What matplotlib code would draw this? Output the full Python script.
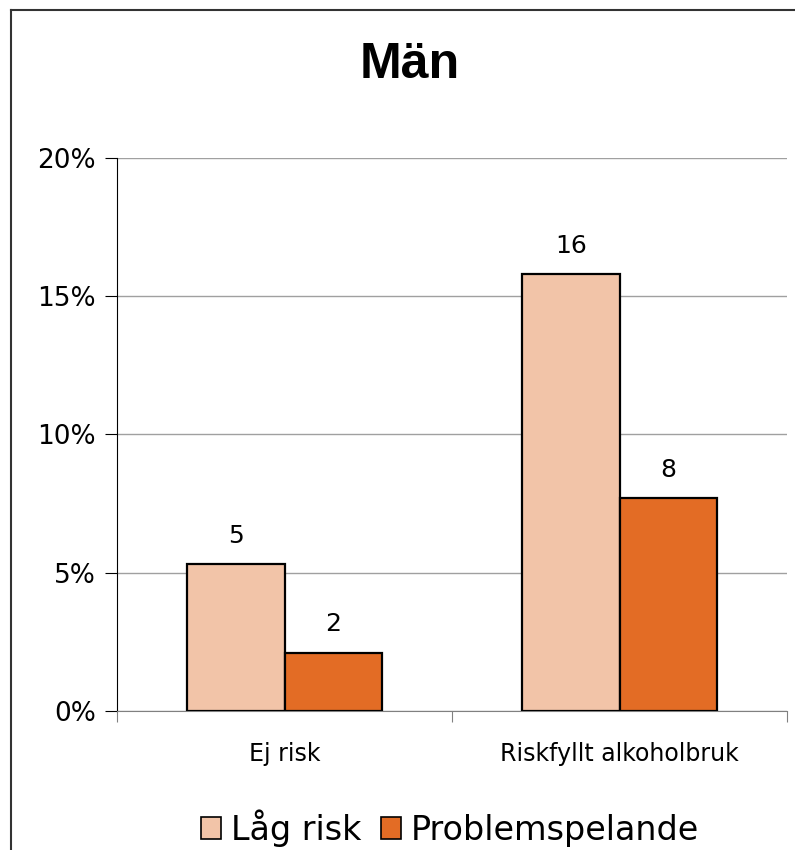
import numpy as np
import matplotlib.pyplot as plt
from matplotlib.lines import Line2D
from matplotlib.patches import Patch

categories = ["Ej risk", "Riskfyllt alkoholbruk"]
series_names = ["Låg risk", "Problemspelande"]
lag_risk = [5.3, 15.8]
problem = [2.1, 7.7]
yticks = [0, 5, 10, 15, 20]

colors = ["#F2C4A8", "#E36C25"]

fig = plt.figure(figsize=(7.95, 8.5), dpi=100)
ax = fig.add_axes([117 / 795, 139 / 850, 670 / 795, 553 / 850])

x = np.arange(len(categories))
w = 0.29
bars1 = ax.bar(x - w / 2, lag_risk, w, color=colors[0], edgecolor="black", linewidth=1.6, zorder=3)
bars2 = ax.bar(x + w / 2, problem, w, color=colors[1], edgecolor="black", linewidth=1.6, zorder=3)

for bars, vals in ((bars1, lag_risk), (bars2, problem)):
    for b, v in zip(bars, vals):
        ax.text(b.get_x() + b.get_width() / 2, v + 0.6, f"{round(v)}",
                ha="center", va="bottom", fontsize=18, family="DejaVu Sans")

ax.set_xlim(-0.5, 1.5)
ax.set_ylim(0, 20)
ax.set_yticks(yticks)
ax.set_yticklabels([f"{t}%" for t in yticks], fontsize=19)
ax.yaxis.grid(True, color="#A0A0A0", linewidth=1, zorder=0)
ax.set_axisbelow(True)

ax.set_xticks([-0.5, 0.5, 1.5])
ax.set_xticklabels([])
ax.set_xticks(x, minor=True)
ax.set_xticklabels(categories, minor=True, fontsize=17)
ax.tick_params(axis="x", which="minor", length=0, pad=22)
ax.tick_params(axis="x", which="major", length=8, color="#808080", direction="out")
ax.tick_params(axis="y", length=9, pad=6)

for s in ("top", "right"):
    ax.spines[s].set_visible(False)
ax.spines["bottom"].set_color("#808080")
ax.spines["left"].set_color("black")

fig.text(410 / 795, 1 - 65 / 850, "Män", ha="center", va="center",
         fontsize=36, fontweight="bold", family="Liberation Sans")

handles = [Patch(facecolor=c, edgecolor="black", linewidth=1.2) for c in colors]
fig.legend(handles, series_names, loc="center", bbox_to_anchor=(450 / 795, 1 - 828 / 850),
           ncol=2, frameon=False, fontsize=24, handlelength=0.6, handleheight=0.6,
           handletextpad=0.3, columnspacing=0.6, borderaxespad=0)

fig.add_artist(Line2D([11 / 795, 11 / 795], [0, 1 - 10 / 850], color="#333333", linewidth=1.5))
fig.add_artist(Line2D([11 / 795, 1], [1 - 10 / 850, 1 - 10 / 850], color="#333333", linewidth=1.5))

fig.savefig("out.png", dpi=100)
